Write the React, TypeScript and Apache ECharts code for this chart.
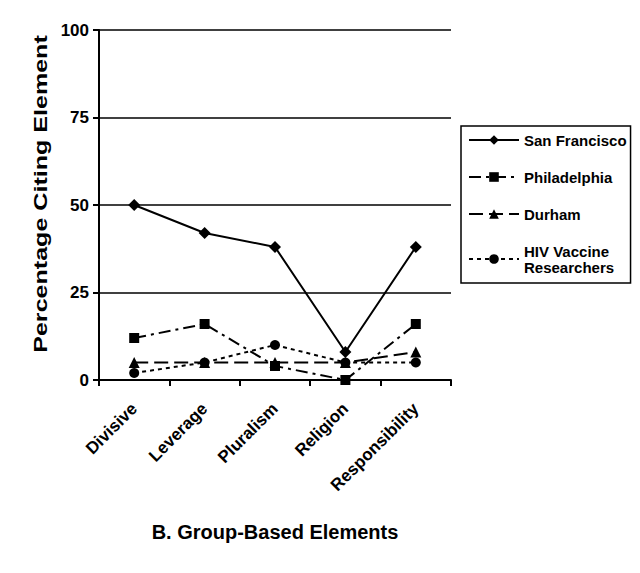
import React, { useEffect, useRef } from "react";
import * as echarts from "echarts";

const categories = ["Divisive", "Leverage", "Pluralism", "Religion", "Responsibility"];
const sanFrancisco = [50, 42, 38, 8, 38];
const philadelphia = [12, 16, 4, 0, 16];
const durham = [5, 5, 5, 5, 8];
const hivResearchers = [2, 5, 10, 5, 5];
const yTicks = [0, 25, 50, 75, 100];
const seriesNames = ["San Francisco", "Philadelphia", "Durham", "HIV Vaccine\nResearchers"];
const xTitle = "B. Group-Based Elements";
const yTitle = "Percentage Citing Element";

const FONT = "'Liberation Sans', Arial, sans-serif";

export default function App() {
  const ref = useRef<HTMLDivElement>(null);
  useEffect(() => {
    if (!ref.current) return;
    const chart = echarts.init(ref.current, null, { renderer: "svg" });
    const mk = (name: string, data: number[], symbol: string, size: number, dash: any) => ({
      name,
      type: "line",
      data,
      symbol,
      symbolSize: size,
      showAllSymbol: true,
      itemStyle: { color: "#000" },
      lineStyle: { color: "#000", width: 2, type: dash },
      z: 3,
    });
    chart.setOption({
      animation: false,
      backgroundColor: "#fff",
      textStyle: { fontFamily: FONT },
      grid: { left: 99, right: 189, top: 30, bottom: 193, containLabel: false },
      legend: {
        orient: "vertical",
        left: 461,
        top: 126,
        padding: [6, 4, 8, 7],
        borderColor: "#000",
        borderWidth: 1.5,
        itemWidth: 50,
        itemHeight: 12,
        itemGap: 21,
        textStyle: { fontFamily: FONT, fontWeight: "bold", fontSize: 15, color: "#000", lineHeight: 16 },
        data: seriesNames,
      },
      xAxis: {
        type: "category",
        data: categories,
        boundaryGap: true,
        axisLine: { lineStyle: { color: "#000", width: 2 } },
        axisTick: { show: true, length: 6, lineStyle: { color: "#000", width: 2 } },
        axisLabel: {
          rotate: 45,
          interval: 0,
          margin: 26,
          fontFamily: FONT,
          fontWeight: "bold",
          fontSize: 17,
          color: "#000",
        },
        name: xTitle,
        nameLocation: "middle",
        nameGap: 142,
        nameTextStyle: { fontFamily: FONT, fontWeight: "bold", fontSize: 20, color: "#000" },
      },
      yAxis: {
        type: "value",
        min: yTicks[0],
        max: yTicks[yTicks.length - 1],
        interval: 25,
        axisLine: { show: true, lineStyle: { color: "#000", width: 2 } },
        axisTick: { show: true, length: 6, lineStyle: { color: "#000", width: 2 } },
        splitLine: { show: true, lineStyle: { color: "#000", width: 1.5 } },
        axisLabel: { fontFamily: FONT, fontWeight: "bold", fontSize: 17, color: "#000", margin: 10 },
      },
      graphic: [
        {
          type: "text",
          x: 41,
          y: 194,
          rotation: Math.PI / 2,
          scaleX: 1.32,
          style: {
            text: yTitle,
            font: `bold 19px ${FONT}`,
            fill: "#000",
            align: "center",
            verticalAlign: "middle",
          },
        },
      ],
      series: [
        mk(seriesNames[0], sanFrancisco, "diamond", 12, "solid"),
        mk(seriesNames[1], philadelphia, "rect", 10, [12, 5, 3, 5]),
        mk(seriesNames[2], durham, "triangle", 11, [14, 6]),
        mk(seriesNames[3], hivResearchers, "circle", 10, [4, 4]),
      ],
    });
    return () => chart.dispose();
  }, []);
  return <div ref={ref} style={{ width: 640, height: 573, position: "absolute", left: 0, top: 0 }} />;
}
